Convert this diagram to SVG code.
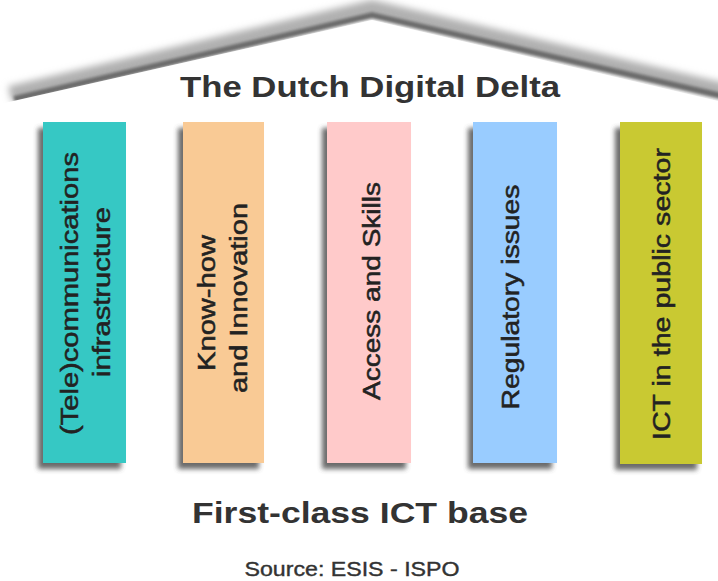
<svg xmlns="http://www.w3.org/2000/svg" width="718" height="581" viewBox="0 0 718 581">
  <defs>
    <filter id="shadow" x="-30%" y="-10%" width="160%" height="120%">
      <feGaussianBlur stdDeviation="2.5"/>
    </filter>
    <filter id="roofBlur" x="-5%" y="-50%" width="110%" height="200%">
      <feGaussianBlur stdDeviation="3.5"/>
    </filter>
    <filter id="roofBlurSmall" x="-5%" y="-50%" width="110%" height="200%">
      <feGaussianBlur stdDeviation="1.8"/>
    </filter>
  </defs>
  <style>
    .shadow { fill: #444; opacity: 0.8; }
    .label { font-family: "Liberation Sans", Arial, sans-serif; font-size: 23px; fill: #222; stroke: #222; stroke-width: 0.5; text-anchor: middle; }
    .title { font-family: "Liberation Sans", Arial, sans-serif; font-weight: bold; fill: #333; text-anchor: middle; }
    .source { font-family: "Liberation Sans", Arial, sans-serif; fill: #333; stroke: #333; stroke-width: 0.4; text-anchor: middle; }
  </style>
  <rect width="718" height="581" fill="#ffffff"/>

  <g id="roof">
    <polyline points="10,94 372,8 724,91" fill="none" stroke="#b0b0b0" stroke-width="16" filter="url(#roofBlur)"/>
    <polyline points="14,99 372,15 722,96" fill="none" stroke="#6a6a6a" stroke-width="6" filter="url(#roofBlurSmall)"/>
    <polygon points="0,104 372,20 718,101 718,581 0,581" fill="#ffffff"/>
    <text class="title" x="370" y="97" font-size="30" textLength="380" lengthAdjust="spacingAndGlyphs">The Dutch Digital Delta</text>
  </g>

  <g id="pillar1">
    <rect class="shadow" x="38" y="128" width="83" height="341" filter="url(#shadow)"/>
    <rect x="43" y="122" width="83" height="341" fill="#36C8C4"/>
    <text class="label" font-size="22" transform="translate(78,293.5) rotate(-90)" textLength="283" lengthAdjust="spacingAndGlyphs">(Tele)communications</text>
    <text class="label" font-size="22" transform="translate(110,292) rotate(-90)" textLength="170" lengthAdjust="spacingAndGlyphs">infrastructure</text>
  </g>

  <g id="pillar2">
    <rect class="shadow" x="178" y="128" width="81" height="341" filter="url(#shadow)"/>
    <rect x="183" y="122" width="81" height="341" fill="#F9CA95"/>
    <text class="label" transform="translate(215,303) rotate(-90)" textLength="136" lengthAdjust="spacingAndGlyphs">Know-how</text>
    <text class="label" transform="translate(247,298) rotate(-90)" textLength="190" lengthAdjust="spacingAndGlyphs">and Innovation</text>
  </g>

  <g id="pillar3">
    <rect class="shadow" x="322" y="128" width="84" height="341" filter="url(#shadow)"/>
    <rect x="327" y="122" width="84" height="341" fill="#FFCACA"/>
    <text class="label" transform="translate(380,291) rotate(-90)" textLength="218" lengthAdjust="spacingAndGlyphs">Access and Skills</text>
  </g>

  <g id="pillar4">
    <rect class="shadow" x="468" y="128" width="84" height="341" filter="url(#shadow)"/>
    <rect x="473" y="122" width="84" height="341" fill="#99CCFF"/>
    <text class="label" transform="translate(519,297) rotate(-90)" textLength="225" lengthAdjust="spacingAndGlyphs">Regulatory issues</text>
  </g>

  <g id="pillar5">
    <rect class="shadow" x="615" y="128" width="82" height="342" filter="url(#shadow)"/>
    <rect x="620" y="122" width="82" height="342" fill="#C9C932"/>
    <text class="label" transform="translate(670,294) rotate(-90)" textLength="292" lengthAdjust="spacingAndGlyphs">ICT in the public sector</text>
  </g>

  <g id="base">
    <text class="title" x="360" y="523" font-size="29" textLength="336" lengthAdjust="spacingAndGlyphs">First-class ICT base</text>
  </g>
  <g id="source">
    <text class="source" x="352" y="576" font-size="21" textLength="215" lengthAdjust="spacingAndGlyphs">Source: ESIS - ISPO</text>
  </g>
</svg>
